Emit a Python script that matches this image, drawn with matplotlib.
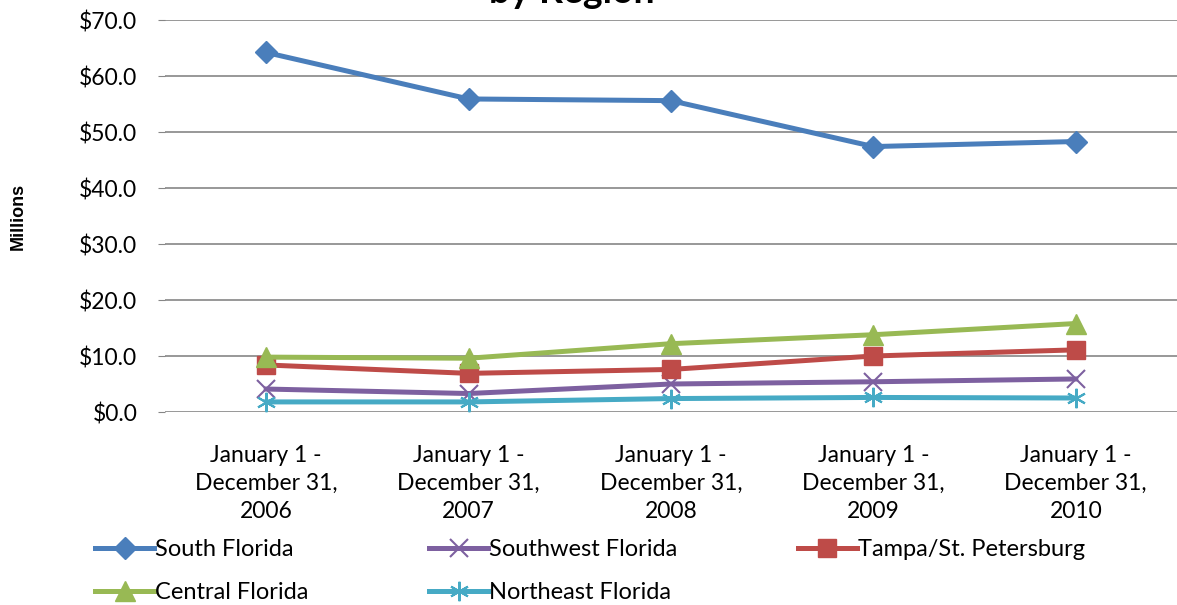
import matplotlib.pyplot as plt

periods = ["January 1 -\nDecember 31,\n2006", "January 1 -\nDecember 31,\n2007",
           "January 1 -\nDecember 31,\n2008", "January 1 -\nDecember 31,\n2009",
           "January 1 -\nDecember 31,\n2010"]

south_florida = [64.2, 55.9, 55.6, 47.4, 48.3]
southwest_florida = [4.1, 3.3, 5.0, 5.4, 5.9]
tampa = [8.4, 6.9, 7.6, 10.0, 11.1]
central_florida = [9.8, 9.6, 12.2, 13.8, 15.8]
northeast_florida = [1.8, 1.8, 2.4, 2.6, 2.5]

series = [
    ("South Florida", south_florida, "#4a7ebb", "D", 11),
    ("Southwest Florida", southwest_florida, "#7d60a0", "x", 13),
    ("Tampa/St. Petersburg", tampa, "#be4b48", "s", 13),
    ("Central Florida", central_florida, "#98b954", "^", 14),
    ("Northeast Florida", northeast_florida, "#46aac5", (6, 2, 0), 14),
]

plt.rcParams['font.family'] = ['Lato', 'DejaVu Sans']

fig = plt.figure(figsize=(11.77, 6.05), dpi=100)
ax = fig.add_axes([165 / 1177, 1 - 412 / 605, 1 - 165 / 1177, 392 / 605])

x = range(len(periods))
lines = {}
for name, vals, color, marker, ms in series:
    mew = 1.5 if marker in ("x", (6, 2, 0)) else 1
    lines[name], = ax.plot(x, vals, color=color, lw=3.6, marker=marker, markersize=ms,
                           markeredgewidth=mew, label=name)

ax.set_xlim(-0.5, len(periods) - 0.5)
ax.set_ylim(0, 70)
ax.set_yticks(range(0, 71, 10))
ax.set_yticklabels([f"${v:.1f}" for v in range(0, 71, 10)], fontsize=16.5)
ax.set_xticks(list(x))
ax.set_xticklabels(periods, fontsize=16.5, linespacing=1.4)
ax.tick_params(axis='x', length=0, pad=24)
ax.tick_params(axis='y', length=5, color='#868686', pad=15)
ax.grid(axis='y', color='#868686', lw=1.2)
ax.set_axisbelow(True)
for s in ['top', 'right', 'left', 'bottom']:
    ax.spines[s].set_visible(False)

fig.text(18 / 1177, 1 - 216 / 605, "Millions", rotation=90, fontsize=13,
         fontweight='bold', family='Liberation Sans', va='center', ha='center')
fig.text(572 / 1177, 1 - 3 / 605, "by Region", fontsize=27, fontweight='bold',
         ha='center', va='baseline')

# row-major order like the original legend
order = ["South Florida", "Central Florida", "Southwest Florida",
         "Northeast Florida", "Tampa/St. Petersburg"]
fig.legend([lines[n] for n in order], order, loc='upper left',
           bbox_to_anchor=(95 / 1177, 1 - 539 / 605), ncol=3,
           frameon=False, fontsize=17, handlelength=2.5, handletextpad=0.05,
           columnspacing=5.1, labelspacing=0.95, borderpad=0, borderaxespad=0)

fig.savefig("out.png", dpi=100)
